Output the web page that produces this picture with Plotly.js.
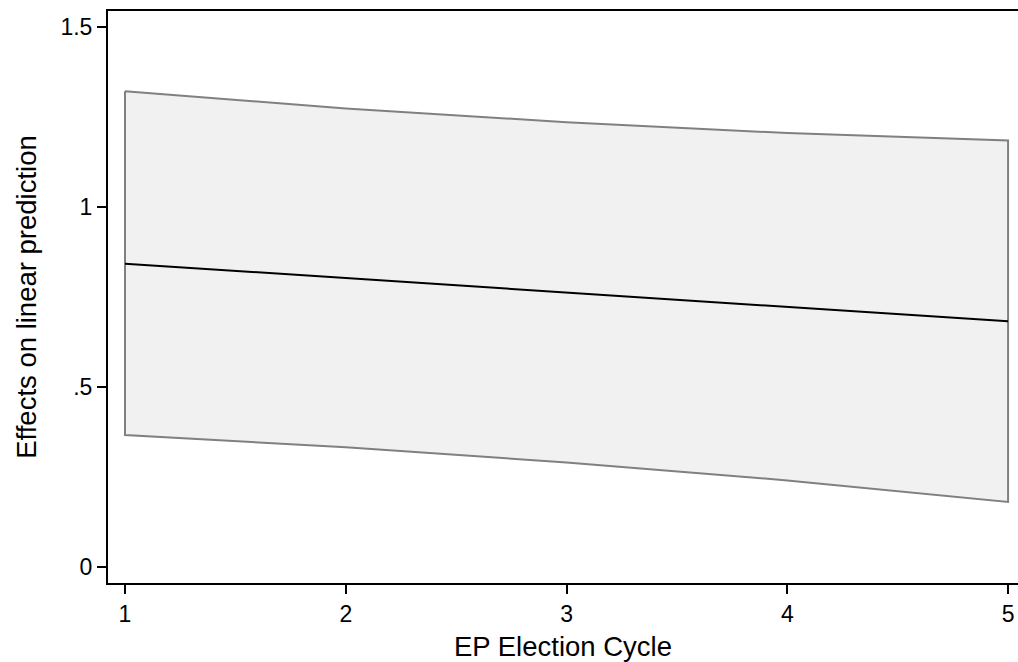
<!DOCTYPE html>
<html>
<head>
<meta charset="utf-8">
<script src="https://cdn.plot.ly/plotly-3.0.1.min.js"></script>
<style>html,body{margin:0;padding:0;background:#fff;}#chart{width:1018px;height:662px;}</style>
</head>
<body>
<div id="chart"></div>
<script>
const cycles = [1, 2, 3, 4, 5];
const effect = [0.843, 0.803, 0.763, 0.723, 0.683];
const upper = [1.322, 1.274, 1.236, 1.206, 1.185];
const lower = [0.367, 0.333, 0.291, 0.241, 0.181];
const yTickVals = [0, 0.5, 1, 1.5];
const yTickText = ['0', '.5', '1', '1.5'];
const xTickVals = [1, 2, 3, 4, 5];

const bandX = cycles.concat(cycles.slice().reverse(), [cycles[0]]);
const bandY = upper.concat(lower.slice().reverse(), [upper[0]]);

const traces = [
  {x: bandX, y: bandY, mode: 'lines', fill: 'toself', fillcolor: '#f1f1f1',
   line: {color: '#808080', width: 2}, hoverinfo: 'skip', showlegend: false},
  {x: cycles, y: effect, mode: 'lines', line: {color: '#000000', width: 2}, showlegend: false}
];

const fam = '"Liberation Sans", Arial, sans-serif';
const layout = {
  width: 1018, height: 662,
  margin: {l: 108, r: 0, t: 11, b: 79},
  paper_bgcolor: '#fff', plot_bgcolor: '#fff',
  font: {family: fam, color: '#000'},
  showlegend: false,
  xaxis: {
    range: [0.923, 5.045], tickvals: xTickVals, ticktext: xTickVals.map(String),
    ticks: 'outside', ticklen: 9, tickwidth: 2, tickcolor: '#000',
    showline: true, linecolor: '#000', linewidth: 2, mirror: true,
    showgrid: false, zeroline: false,
    tickfont: {size: 23, family: fam, color: '#000'},
    title: {text: 'EP Election Cycle', font: {size: 27.5, family: fam, color: '#000'}, standoff: 11}
  },
  yaxis: {
    range: [-0.044, 1.545], tickvals: yTickVals, ticktext: yTickText,
    ticks: 'outside', ticklen: 9, tickwidth: 2, tickcolor: '#000',
    showline: true, linecolor: '#000', linewidth: 2, mirror: true,
    showgrid: false, zeroline: false,
    tickfont: {size: 23, family: fam, color: '#000'},
    title: {text: 'Effects on linear prediction', font: {size: 27.5, family: fam, color: '#000'}, standoff: 16}
  }
};
Plotly.newPlot('chart', traces, layout, {displayModeBar: false, staticPlot: true});
</script>
</body>
</html>
